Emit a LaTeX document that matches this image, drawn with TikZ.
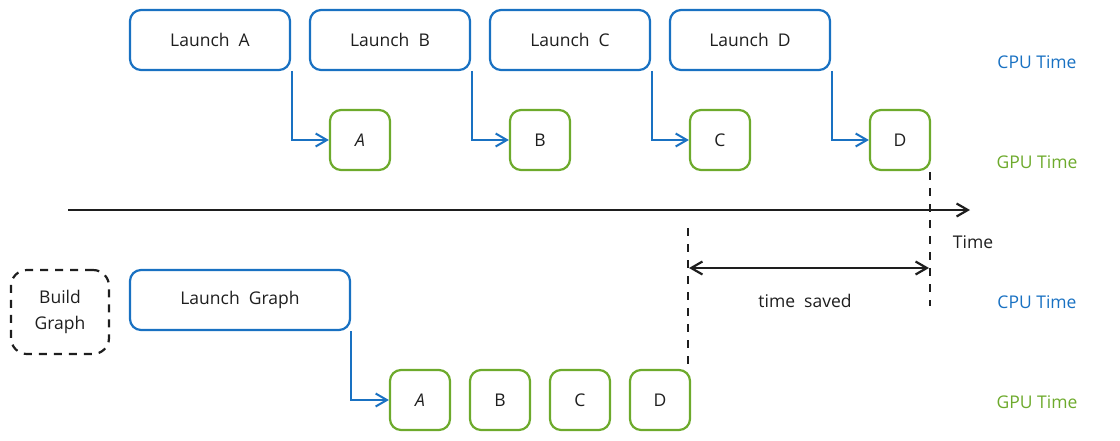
\documentclass[tikz,border=0pt]{standalone}
\usepackage{fontspec}
\setmainfont{Open Sans}
\usetikzlibrary{arrows.meta}
\definecolor{cblue}{HTML}{1971C2}
\definecolor{cgreen}{HTML}{6DAA2C}
\definecolor{cink}{HTML}{1E1E1E}
\begin{document}
\begin{tikzpicture}[x=1pt,y=-1pt,
  font=\fontsize{17.5}{21}\selectfont,
  cpubox/.style={draw=cblue,line width=2.2pt,rounded corners=11pt,minimum height=60pt,inner sep=0pt,text=cink},
  gpubox/.style={draw=cgreen,line width=2.2pt,rounded corners=11pt,minimum width=60pt,minimum height=60pt,inner sep=0pt,text=cink},
  launch/.style={draw=cblue,line width=2.2pt,-{Straight Barb[angle=60:13pt,line width=2pt]}},
  cpulbl/.style={text=cblue},
  gpulbl/.style={text=cgreen},
  vdash/.style={draw=cink,line width=2pt,dash pattern=on 8pt off 8pt},
  timeline/.style={draw=cink,line width=2.2pt}
]
\useasboundingbox (0,0) rectangle (1120,440);
% top row CPU
\node[cpubox,minimum width=160pt] (la) at (210,40) {Launch\ \ A};
\node[cpubox,minimum width=160pt] (lb) at (390,40) {Launch\ \ B};
\node[cpubox,minimum width=160pt] (lc) at (570,40) {Launch\ \ C};
\node[cpubox,minimum width=160pt] (ld) at (750,40) {Launch\ \ D};
% top row GPU
\node[gpubox] (ga) at (360,140) {\itshape A};
\node[gpubox] (gb) at (540,140) {B};
\node[gpubox] (gc) at (720,140) {C};
\node[gpubox] (gd) at (900,140) {D};
\draw[launch] (la.south east) ++(1,0) |- (ga.west);
\draw[launch] (lb.south east) ++(1,0) |- (gb.west);
\draw[launch] (lc.south east) ++(1,0) |- (gc.west);
\draw[launch] (ld.south east) ++(1,0) |- (gd.west);
% labels
\node[cpulbl] (cpu1) at (1037,62) {CPU Time};
\node[gpulbl] (gpu1) at (1037,162) {GPU Time};
\node[cpulbl] (cpu2) at (1037,302) {CPU Time};
\node[gpulbl] (gpu2) at (1037,402) {GPU Time};
% timeline
\coordinate (t0) at (68,210);
\coordinate (t1) at (970,210);
\draw[timeline,-{Straight Barb[angle=60:13pt,line width=2.2pt]}] (t0) -- (t1);
\node[text=cink] (tlbl) at (973,242) {Time};
% bottom row
\node[draw=cink,line width=2.2pt,dash pattern=on 8pt off 7pt,rounded corners=16pt,minimum width=98pt,minimum height=84pt,inner sep=0pt,align=center,text=cink,font=\fontsize{17.5}{26}\selectfont] (bg) at (60,312) {Build\\Graph};
\node[cpubox,minimum width=220pt] (lg) at (240,300) {Launch\ \ Graph};
\node[gpubox] (ba) at (420,400) {\itshape A};
\node[gpubox] (bb) at (500,400) {B};
\node[gpubox] (bc) at (580,400) {C};
\node[gpubox] (bd) at (660,400) {D};
\draw[launch] (lg.south east) |- (ba.west);
% dashed markers
\coordinate (d1top) at (930,172);
\coordinate (d1bot) at (930,306);
\coordinate (d2top) at (688,228);
\coordinate (d2bot) at (688,368);
\draw[vdash] (d1top) -- (d1bot);
\draw[vdash] (d2top) -- (d2bot);
\coordinate (s0) at (689,268);
\coordinate (s1) at (929,268);
\draw[timeline,{Straight Barb[angle=60:13pt,line width=2.2pt]}-{Straight Barb[angle=60:13pt,line width=2.2pt]}] (s0) -- (s1);
\node[text=cink] (saved) at (805,301) {time\ \ saved};
\end{tikzpicture}
\end{document}
